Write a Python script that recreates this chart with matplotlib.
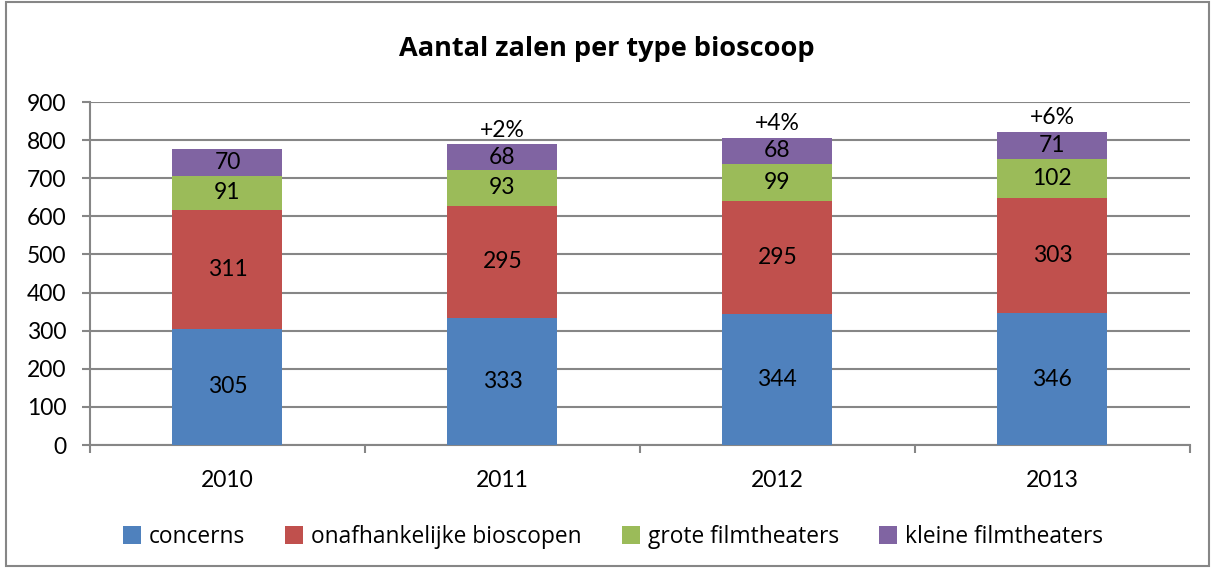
import matplotlib
matplotlib.use("Agg")
import matplotlib.pyplot as plt
import numpy as np

years = ["2010", "2011", "2012", "2013"]
concerns = [305, 333, 344, 346]
onafhankelijk = [311, 295, 295, 303]
grote = [91, 93, 99, 102]
kleine = [70, 68, 68, 71]
growth = ["", "+2%", "+4%", "+6%"]
series_names = ["concerns", "onafhankelijke bioscopen", "grote filmtheaters", "kleine filmtheaters"]
colors = ["#4F81BD", "#C0504D", "#9BBB59", "#8064A2"]

plt.rcParams['font.family'] = ['Open Sans', 'DejaVu Sans']
num_font = ['Lato', 'DejaVu Sans']
num_size = 16.5

fig = plt.figure(figsize=(12.14, 5.68), dpi=100)
ax = fig.add_axes([0.0741, 0.2165, 0.906, 0.6039])

x = np.arange(len(years))
width = 0.4
bottom = np.zeros(len(years))
for vals, name, c in zip([concerns, onafhankelijk, grote, kleine], series_names, colors):
    ax.bar(x, vals, width, bottom=bottom, color=c, label=name, zorder=3)
    for xi, v, b in zip(x, vals, bottom):
        ax.text(xi, b + v / 2, str(v), ha='center', va='center', fontsize=num_size,
                family=num_font, color='black', zorder=4)
    bottom = bottom + np.array(vals)

for xi, g, tot in zip(x, growth, bottom):
    if g:
        ax.text(xi, tot + 10, g, ha='center', va='bottom', fontsize=num_size,
                family=num_font, color='black')

ax.set_xlim(-0.5, len(years) - 0.5)
ax.set_ylim(0, 900)
ax.set_yticks(range(0, 901, 100))
ax.set_xticks(x)
ax.set_xticklabels(years)
ax.set_xticks(np.arange(-0.5, len(years), 1), minor=True)
ax.tick_params(axis='x', which='major', length=0, labelsize=num_size, pad=18)
ax.tick_params(axis='x', which='minor', length=5.5, color='#868686', width=1.5)
ax.tick_params(axis='y', length=6, color='#868686', width=1.5, labelsize=num_size, pad=11)
for lab in ax.get_xticklabels() + ax.get_yticklabels():
    lab.set_family(num_font)
ax.yaxis.grid(True, color='#868686', linewidth=1.5, zorder=0)
for s in ['top', 'right']:
    ax.spines[s].set_visible(False)
for s in ['left', 'bottom']:
    ax.spines[s].set_color('#868686')
    ax.spines[s].set_linewidth(1.5)

fig.suptitle("Aantal zalen per type bioscoop", y=0.937, fontsize=19.5, fontweight='bold')

fig.legend(loc='center', bbox_to_anchor=(0.505, 0.055), ncol=4, frameon=False,
           fontsize=16.4, handlelength=0.8, handleheight=0.8, columnspacing=1.75, handletextpad=0.35)

border = plt.Rectangle((0.005, 0.004), 0.991, 0.992, transform=fig.transFigure,
                       fill=False, edgecolor='#868686', linewidth=1.5)
fig.patches.append(border)

fig.savefig("out.png", dpi=100)
